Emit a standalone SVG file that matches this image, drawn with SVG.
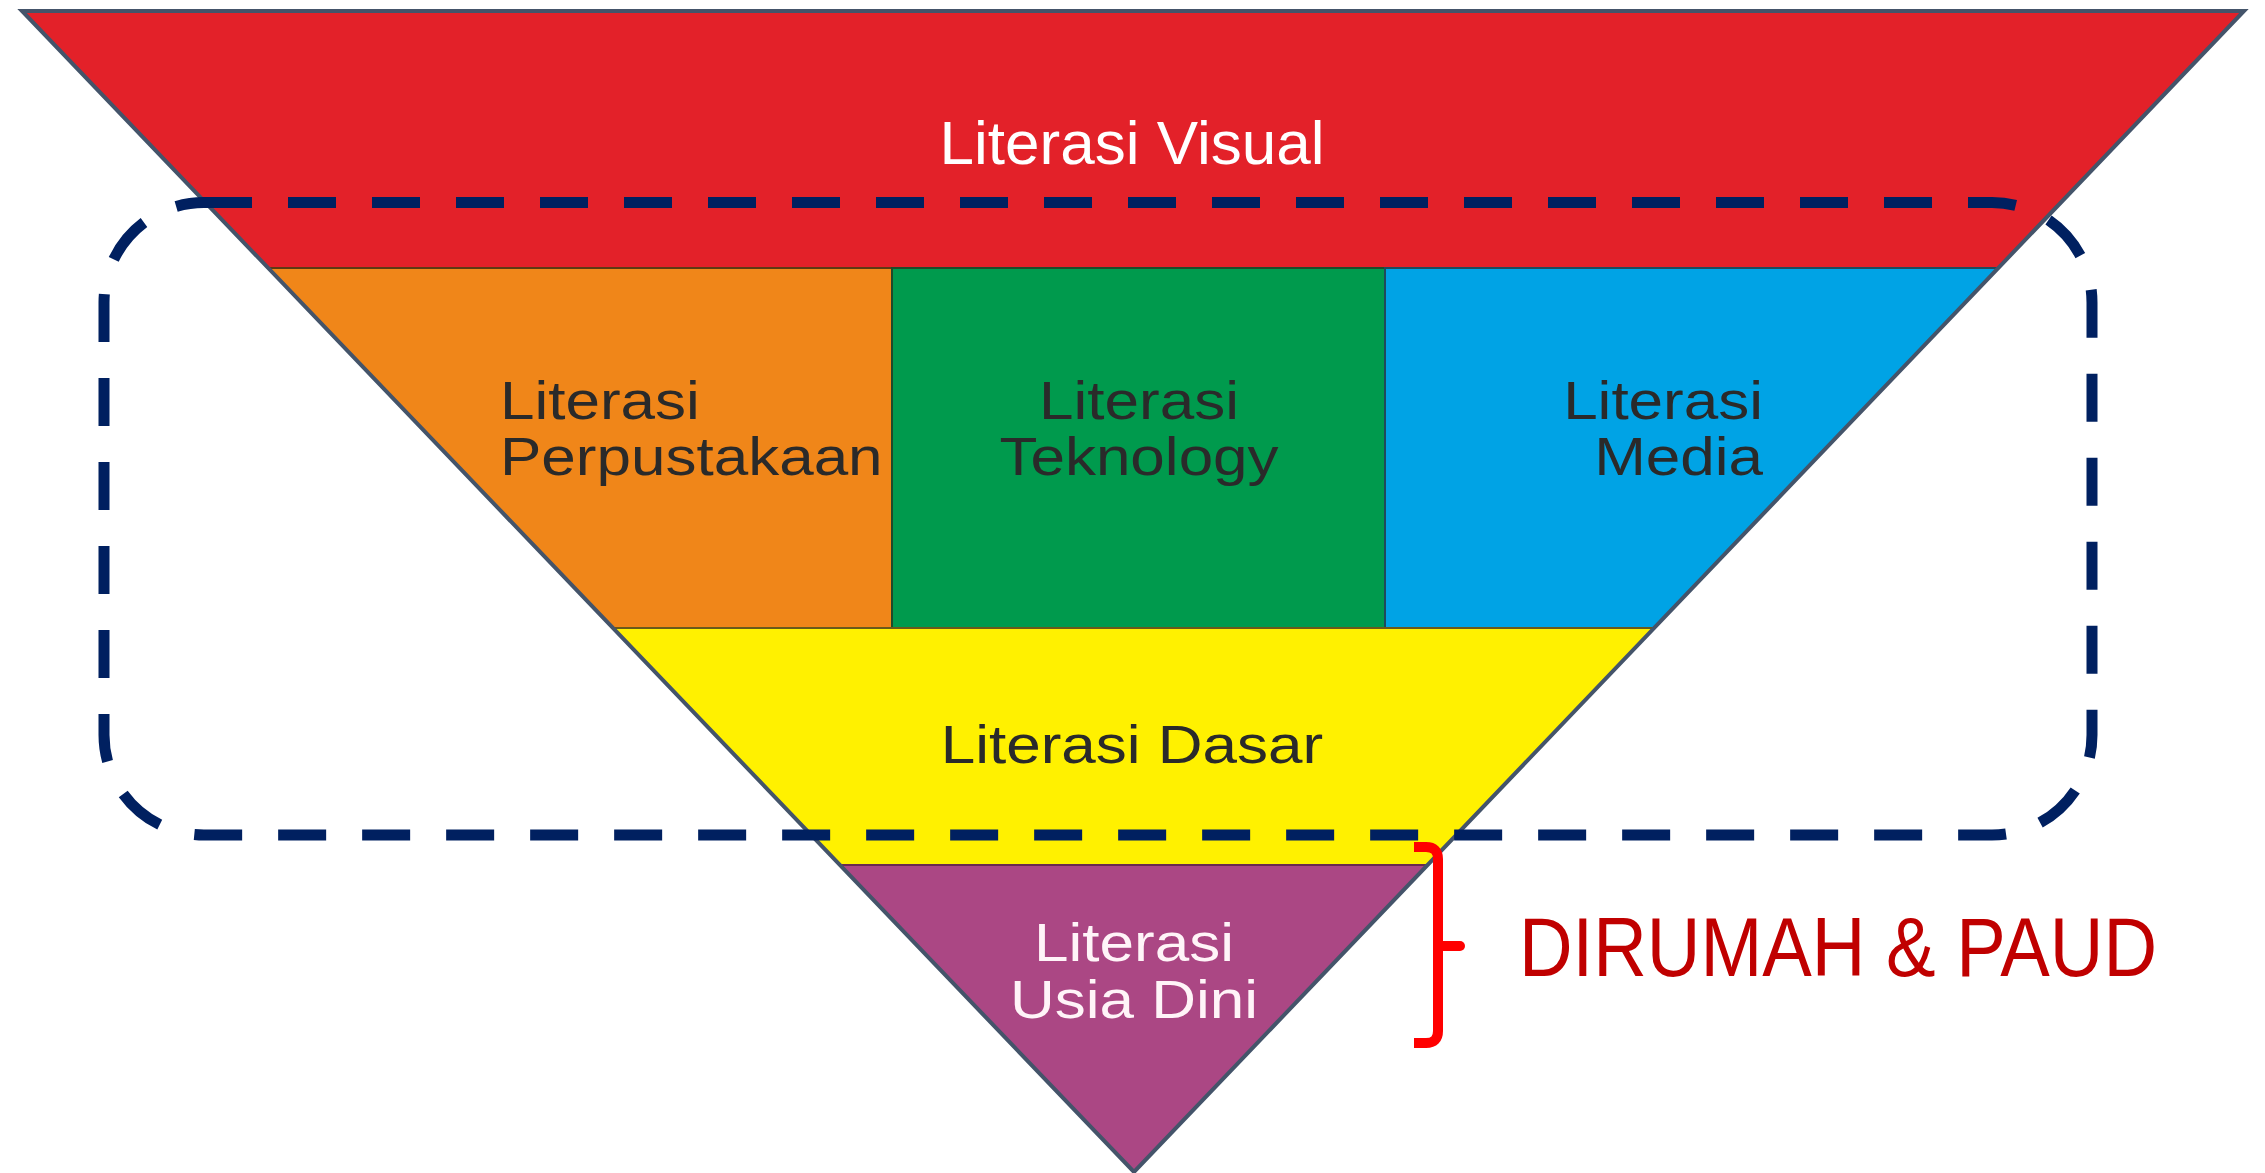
<svg xmlns="http://www.w3.org/2000/svg" width="2265" height="1173" viewBox="0 0 2265 1173">
  <style>
    .band { stroke-width: 2; stroke-linejoin: miter; }
    .lbl { font-family: "Liberation Sans", Arial, sans-serif; font-size: 53px; fill: #2a2a2a; }
    .lblw { font-family: "Liberation Sans", Arial, sans-serif; fill: #ffffff; }
    .outline { fill: none; stroke: #44546A; stroke-width: 4; stroke-linejoin: miter; }
  </style>
  <rect x="0" y="0" width="2265" height="1173" fill="#ffffff"/>

  <g id="literasi-visual">
    <polygon class="band" points="22,11 2244,11 1998,268 268,268" fill="#E32129" stroke="#9E1B1F"/>
    <text class="lblw" x="1132" y="164" font-size="62" text-anchor="middle">Literasi Visual</text>
  </g>

  <g id="literasi-perpustakaan">
    <polygon class="band" points="268,268 892,268 892,628 613,628" fill="#F08619" stroke="#5E3A12"/>
    <g transform="translate(500,0) scale(1.17,1)">
      <text class="lbl" x="0" y="419">Literasi</text>
      <text class="lbl" x="0" y="475">Perpustakaan</text>
    </g>
  </g>

  <g id="literasi-teknology">
    <polygon class="band" points="892,268 1385,268 1385,628 892,628" fill="#009A4D" stroke="#1F4A2A"/>
    <g transform="translate(1139,0) scale(1.17,1)">
      <text class="lbl" x="0" y="419" text-anchor="middle">Literasi</text>
      <text class="lbl" x="0" y="475" text-anchor="middle">Teknology</text>
    </g>
  </g>

  <g id="literasi-media">
    <polygon class="band" points="1385,268 1998,268 1654,628 1385,628" fill="#00A3E5" stroke="#1F4A5A"/>
    <g transform="translate(1763,0) scale(1.17,1)">
      <text class="lbl" x="0" y="419" text-anchor="end">Literasi</text>
      <text class="lbl" x="0" y="475" text-anchor="end">Media</text>
    </g>
  </g>

  <g id="literasi-dasar">
    <polygon class="band" points="613,628 1654,628 1427.6,865 840,865" fill="#FFF100" stroke="#6A5A1A"/>
    <g transform="translate(1132,0) scale(1.17,1)">
      <text class="lbl" x="0" y="763" text-anchor="middle">Literasi Dasar</text>
    </g>
  </g>

  <g id="literasi-usia-dini">
    <polygon class="band" points="840,865 1427.6,865 1134,1172" fill="#AB4784" stroke="#6A2A50"/>
    <g transform="translate(1134,0) scale(1.17,1)">
      <text class="lbl" x="0" y="961" text-anchor="middle" style="fill:#fff4f8">Literasi</text>
      <text class="lbl" x="0" y="1018" text-anchor="middle" style="fill:#fff4f8">Usia Dini</text>
    </g>
  </g>

  <polygon class="outline" points="22,11 2244,11 1134,1172"/>

  <g id="connectors">
    <rect id="dashed-group" x="104" y="202.5" width="1988" height="632.5" rx="100" ry="100" fill="none" stroke="#002060" stroke-width="11" stroke-dasharray="48 36"/>
    <g id="brace">
      <path d="M1414,847 L1426,847 Q1438,847 1438,859 L1438,1031 Q1438,1043 1426,1043 L1414,1043" fill="none" stroke="#FF0000" stroke-width="10"/>
      <path d="M1438,946 L1460,946" fill="none" stroke="#FF0000" stroke-width="10" stroke-linecap="round"/>
    </g>
  </g>

  <g id="label-dirumah-paud">
    <text x="1519" y="976" font-family="'Liberation Sans', Arial, sans-serif" font-size="84" fill="#C00000" textLength="638" lengthAdjust="spacingAndGlyphs">DIRUMAH &amp; PAUD</text>
  </g>
</svg>
